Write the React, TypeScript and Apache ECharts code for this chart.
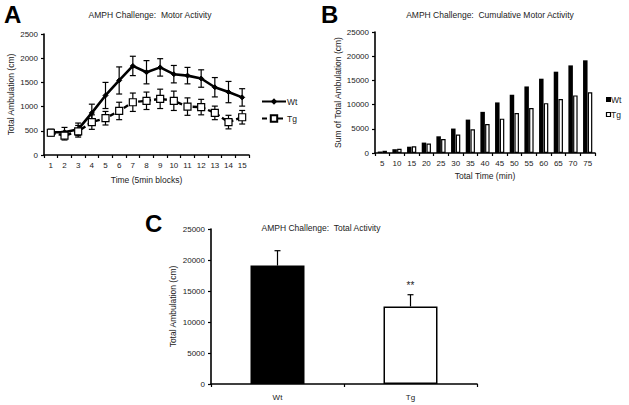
import React, { useEffect, useRef } from "react";
import * as echarts from "echarts";

// Panel A: motor activity per 5-min block
const blocks = ["1", "2", "3", "4", "5", "6", "7", "8", "9", "10", "11", "12", "13", "14", "15"];
const wtMean = [470, 470, 530, 870, 1230, 1540, 1840, 1710, 1810, 1670, 1640, 1580, 1400, 1300, 1190];
const wtErr = [60, 100, 130, 180, 270, 280, 200, 240, 180, 180, 170, 180, 200, 220, 180];
const tgMean = [460, 400, 490, 680, 760, 910, 1090, 1120, 1160, 1120, 1000, 990, 870, 680, 780];
const tgErr = [70, 90, 120, 150, 140, 180, 190, 180, 200, 200, 180, 160, 140, 140, 140];

// Panel B: cumulative activity
const totalTime = ["5", "10", "15", "20", "25", "30", "35", "40", "45", "50", "55", "60", "65", "70", "75"];
const wtCum = [300, 780, 1300, 2150, 3450, 5050, 6900, 8500, 10450, 12050, 13750, 15350, 16800, 18100, 19150];
const tgCum = [460, 880, 1400, 1950, 2900, 3800, 4900, 6000, 7100, 8250, 9300, 10300, 11150, 11900, 12550];

// Panel C: total activity
const groups = ["Wt", "Tg"];
const totals = [19100, 12500];
const totalErr = [2400, 1900];
const significance = ["", "**"];

const FONT = "Liberation Sans, Arial, sans-serif";
const TXT = "#222";

export default function App() {
  const ref = useRef<HTMLDivElement>(null);
  useEffect(() => {
    if (!ref.current) return;
    const chart = echarts.init(ref.current, null, { renderer: "svg" });

    const axisLine = { show: true, lineStyle: { color: "#000", width: 1.6 } };
    const axisTick = { show: true, inside: false, length: 3, lineStyle: { color: "#000", width: 1.2 } };
    const axisLabel = { color: TXT, fontSize: 8, fontFamily: FONT, margin: 6, formatter: (v: any) => String(v) };
    const nameStyle = { color: TXT, fontSize: 8.5, fontFamily: FONT };

    const errRender = (both: boolean, withText: boolean) => (params: any, api: any) => {
      const x = api.value(0);
      const y = api.value(1);
      const e = api.value(2);
      const top = api.coord([x, y + e]);
      const mid = api.coord([x, y]);
      const bot = both ? api.coord([x, y - e]) : mid;
      const w = 3;
      const st = { stroke: "#000", lineWidth: 1.2 };
      const children: any[] = [
        { type: "line", shape: { x1: top[0], y1: top[1], x2: bot[0], y2: bot[1] }, style: st },
        { type: "line", shape: { x1: top[0] - w, y1: top[1], x2: top[0] + w, y2: top[1] }, style: st },
      ];
      if (both) {
        children.push({ type: "line", shape: { x1: bot[0] - w, y1: bot[1], x2: bot[0] + w, y2: bot[1] }, style: st });
      }
      if (withText) {
        const s = significance[params.dataIndex];
        if (s) {
          children.push({
            type: "text",
            style: { text: s, x: top[0], y: top[1] - 4, align: "center", verticalAlign: "bottom", fill: TXT, font: `10px ${FONT}` },
          });
        }
      }
      return { type: "group", children };
    };

    const titleStyle = { fontSize: 8.5, fontWeight: "normal", color: TXT, fontFamily: FONT };

    chart.setOption({
      animation: false,
      backgroundColor: "#fff",
      textStyle: { fontFamily: FONT },
      title: [
        { text: "AMPH Challenge:  Motor Activity", left: 150, top: 10, textAlign: "center", padding: 0, textStyle: titleStyle },
        { text: "AMPH Challenge:  Cumulative Motor Activity", left: 490, top: 10, textAlign: "center", padding: 0, textStyle: titleStyle },
        { text: "AMPH Challenge:  Total Activity", left: 321, top: 223, textAlign: "center", padding: 0, textStyle: titleStyle },
      ],
      graphic: [
        { type: "text", left: 4, top: 2, style: { text: "A", font: `bold 24px ${FONT}`, fill: "#000" } },
        { type: "text", left: 321, top: 2, style: { text: "B", font: `bold 24px ${FONT}`, fill: "#000" } },
        { type: "text", left: 145, top: 211, style: { text: "C", font: `bold 24px ${FONT}`, fill: "#000" } },
        // legend for panel B
        { type: "rect", shape: { x: 606, y: 97, width: 5, height: 5 }, style: { fill: "#000" } },
        { type: "text", style: { text: "Wt", x: 611, y: 99.5, verticalAlign: "middle", fill: TXT, font: `8.5px ${FONT}` } },
        { type: "rect", shape: { x: 606.5, y: 112.5, width: 4, height: 4 }, style: { fill: "#fff", stroke: "#000", lineWidth: 1.2 } },
        { type: "text", style: { text: "Tg", x: 611, y: 115, verticalAlign: "middle", fill: TXT, font: `8.5px ${FONT}` } },
      ],
      legend: [
        {
          data: ["Wt", "Tg"],
          orient: "vertical",
          left: 261,
          top: 97,
          padding: 0,
          itemWidth: 24,
          itemHeight: 8,
          itemGap: 8,
          textStyle: { color: TXT, fontSize: 8.5, fontFamily: FONT, padding: [0, 0, 0, -4] },
        },
      ],
      grid: [
        { left: 44, top: 34, width: 205, height: 121 },
        { left: 375, top: 32, width: 220, height: 121 },
        { left: 211, top: 229, width: 266, height: 155 },
      ],
      xAxis: [
        { type: "category", gridIndex: 0, data: blocks, boundaryGap: true, axisLine, axisTick, axisLabel,
          name: "Time (5min blocks)", nameLocation: "middle", nameGap: 20, nameTextStyle: nameStyle },
        { type: "category", gridIndex: 1, data: totalTime, boundaryGap: true, axisLine, axisTick, axisLabel,
          name: "Total Time (min)", nameLocation: "middle", nameGap: 18, nameTextStyle: nameStyle },
        { type: "category", gridIndex: 2, data: groups, boundaryGap: true, axisLine, axisTick,
          axisLabel: { ...axisLabel, margin: 9 } },
      ],
      yAxis: [
        { type: "value", gridIndex: 0, min: 0, max: 2500, interval: 500, axisLine, axisTick, axisLabel,
          splitLine: { show: false }, name: "Total Ambulation (cm)", nameLocation: "middle", nameGap: 29,
          nameRotate: 90, nameTextStyle: nameStyle },
        { type: "value", gridIndex: 1, min: 0, max: 25000, interval: 5000, axisLine, axisTick, axisLabel,
          splitLine: { show: false }, name: "Sum of Total Ambulation (cm)", nameLocation: "middle", nameGap: 33,
          nameRotate: 90, nameTextStyle: nameStyle },
        { type: "value", gridIndex: 2, min: 0, max: 25000, interval: 5000, axisLine, axisTick, axisLabel,
          splitLine: { show: false }, name: "Total Ambulation (cm)", nameLocation: "middle", nameGap: 34,
          nameRotate: 90, nameTextStyle: nameStyle },
      ],
      series: [
        // Panel A error bars
        { type: "custom", name: "wtErr", xAxisIndex: 0, yAxisIndex: 0, z: 1, renderItem: errRender(true, false),
          data: blocks.map((_, i) => [i, wtMean[i], wtErr[i]]), silent: true },
        { type: "custom", name: "tgErr", xAxisIndex: 0, yAxisIndex: 0, z: 1, renderItem: errRender(true, false),
          data: blocks.map((_, i) => [i, tgMean[i], tgErr[i]]), silent: true },
        // Panel A lines
        { type: "line", name: "Wt", xAxisIndex: 0, yAxisIndex: 0, data: wtMean, z: 3,
          symbol: "diamond", symbolSize: 5, showAllSymbol: true,
          lineStyle: { color: "#000", width: 2.6 }, itemStyle: { color: "#000", borderColor: "#000" } },
        { type: "line", name: "Tg", xAxisIndex: 0, yAxisIndex: 0, data: tgMean, z: 3,
          symbol: "rect", symbolSize: 7, showAllSymbol: true,
          lineStyle: { color: "#000", width: 2.4, type: [5, 3] },
          itemStyle: { color: "#fff", borderColor: "#000", borderWidth: 1.2 } },
        // Panel B bars
        { type: "bar", name: "Wt cumulative", xAxisIndex: 1, yAxisIndex: 1, data: wtCum,
          barWidth: 4.5, barGap: "5%", itemStyle: { color: "#000" } },
        { type: "bar", name: "Tg cumulative", xAxisIndex: 1, yAxisIndex: 1, data: tgCum,
          barWidth: 4.5, barGap: "5%", itemStyle: { color: "#fff", borderColor: "#000", borderWidth: 1.2 } },
        // Panel C bars
        { type: "bar", name: "Total", xAxisIndex: 2, yAxisIndex: 2, barWidth: 54,
          data: totals.map((v, i) => ({
            value: v,
            itemStyle: i === 0
              ? { color: "#000", borderColor: "#000", borderWidth: 1.5 }
              : { color: "#fff", borderColor: "#000", borderWidth: 1.5 },
          })) },
        { type: "custom", name: "totalErr", xAxisIndex: 2, yAxisIndex: 2, z: 1, renderItem: errRender(false, true),
          data: groups.map((_, i) => [i, totals[i], totalErr[i]]), silent: true },
      ],
    });
    return () => chart.dispose();
  }, []);
  return <div ref={ref} style={{ position: "absolute", left: 0, top: 0, width: 629, height: 405, background: "#fff" }} />;
}
